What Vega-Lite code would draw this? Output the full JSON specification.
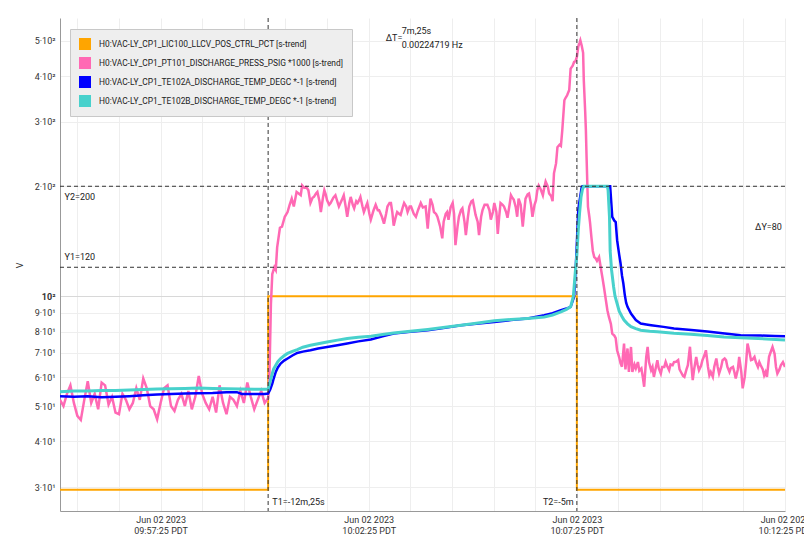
{
  "$schema": "https://vega.github.io/schema/vega-lite/v6.json",
  "width": 725,
  "height": 493,
  "autosize": "none",
  "padding": {"left": 60, "top": 18, "right": 19, "bottom": 40},
  "datasets": {
    "orange": [
      {"s": 0, "v": 29.5}, {"s": 300, "v": 100}, {"s": 745, "v": 29.5}, {"s": 1045, "v": 29.5}
    ],
    "pink": [
      {"s": 0, "v": 52}, {"s": 5, "v": 50}, {"s": 10, "v": 54}, {"s": 15, "v": 57}, {"s": 20, "v": 51},
      {"s": 25, "v": 47}, {"s": 30, "v": 45.8}, {"s": 35, "v": 52}, {"s": 40, "v": 58.5}, {"s": 45, "v": 51},
      {"s": 50, "v": 54}, {"s": 55, "v": 49}, {"s": 60, "v": 58}, {"s": 65, "v": 57}, {"s": 70, "v": 50.5},
      {"s": 75, "v": 53}, {"s": 80, "v": 48}, {"s": 85, "v": 47.5}, {"s": 90, "v": 54}, {"s": 95, "v": 52},
      {"s": 100, "v": 49}, {"s": 105, "v": 51}, {"s": 110, "v": 56}, {"s": 115, "v": 52}, {"s": 120, "v": 59.5},
      {"s": 125, "v": 56}, {"s": 130, "v": 50}, {"s": 135, "v": 49}, {"s": 140, "v": 46}, {"s": 145, "v": 51},
      {"s": 150, "v": 56}, {"s": 155, "v": 57}, {"s": 160, "v": 50}, {"s": 165, "v": 48.5}, {"s": 170, "v": 52},
      {"s": 175, "v": 54}, {"s": 180, "v": 50}, {"s": 185, "v": 55}, {"s": 190, "v": 49}, {"s": 195, "v": 53},
      {"s": 200, "v": 60.5}, {"s": 205, "v": 54}, {"s": 210, "v": 51}, {"s": 215, "v": 49}, {"s": 220, "v": 53},
      {"s": 225, "v": 48}, {"s": 230, "v": 57}, {"s": 235, "v": 51}, {"s": 240, "v": 47.5}, {"s": 245, "v": 53},
      {"s": 250, "v": 52}, {"s": 255, "v": 50}, {"s": 260, "v": 55}, {"s": 265, "v": 51}, {"s": 270, "v": 58},
      {"s": 275, "v": 53}, {"s": 280, "v": 49}, {"s": 285, "v": 52}, {"s": 290, "v": 55}, {"s": 295, "v": 51},
      {"s": 300, "v": 52.5}, {"s": 302, "v": 62}, {"s": 304, "v": 95}, {"s": 306, "v": 115}, {"s": 309, "v": 120},
      {"s": 311, "v": 118}, {"s": 313, "v": 136}, {"s": 317, "v": 154}, {"s": 320, "v": 155}, {"s": 324, "v": 165},
      {"s": 328, "v": 170}, {"s": 331, "v": 178}, {"s": 334, "v": 185}, {"s": 337, "v": 176}, {"s": 341, "v": 193},
      {"s": 344, "v": 191}, {"s": 347, "v": 189}, {"s": 349, "v": 201}, {"s": 352, "v": 198}, {"s": 355, "v": 199},
      {"s": 358, "v": 195}, {"s": 361, "v": 180}, {"s": 364, "v": 186}, {"s": 366, "v": 187}, {"s": 369, "v": 191},
      {"s": 371, "v": 193}, {"s": 374, "v": 182}, {"s": 376, "v": 170}, {"s": 379, "v": 186}, {"s": 381, "v": 195},
      {"s": 383, "v": 190}, {"s": 385, "v": 183}, {"s": 388, "v": 178}, {"s": 390, "v": 180}, {"s": 394, "v": 186},
      {"s": 397, "v": 189}, {"s": 400, "v": 181}, {"s": 402, "v": 176}, {"s": 406, "v": 183}, {"s": 409, "v": 189},
      {"s": 412, "v": 175}, {"s": 414, "v": 165}, {"s": 417, "v": 180}, {"s": 419, "v": 187}, {"s": 422, "v": 178},
      {"s": 424, "v": 174}, {"s": 427, "v": 182}, {"s": 429, "v": 180}, {"s": 431, "v": 183}, {"s": 433, "v": 187},
      {"s": 436, "v": 176}, {"s": 438, "v": 170}, {"s": 441, "v": 176}, {"s": 443, "v": 180}, {"s": 446, "v": 168},
      {"s": 448, "v": 162}, {"s": 452, "v": 172}, {"s": 455, "v": 178}, {"s": 458, "v": 172}, {"s": 460, "v": 172},
      {"s": 464, "v": 165}, {"s": 467, "v": 158}, {"s": 470, "v": 168}, {"s": 472, "v": 176}, {"s": 475, "v": 180},
      {"s": 477, "v": 180}, {"s": 479, "v": 170}, {"s": 481, "v": 156}, {"s": 484, "v": 165}, {"s": 486, "v": 170},
      {"s": 489, "v": 168}, {"s": 491, "v": 167}, {"s": 494, "v": 175}, {"s": 496, "v": 180}, {"s": 499, "v": 176},
      {"s": 501, "v": 170}, {"s": 504, "v": 176}, {"s": 506, "v": 176}, {"s": 510, "v": 168}, {"s": 513, "v": 165},
      {"s": 516, "v": 172}, {"s": 520, "v": 180}, {"s": 523, "v": 175}, {"s": 527, "v": 176}, {"s": 530, "v": 153},
      {"s": 532, "v": 170}, {"s": 534, "v": 185}, {"s": 537, "v": 178}, {"s": 539, "v": 170}, {"s": 542, "v": 168},
      {"s": 544, "v": 165}, {"s": 548, "v": 155}, {"s": 551, "v": 144}, {"s": 553, "v": 160}, {"s": 556, "v": 168},
      {"s": 558, "v": 170}, {"s": 560, "v": 162}, {"s": 563, "v": 175}, {"s": 566, "v": 180}, {"s": 568, "v": 168},
      {"s": 570, "v": 138}, {"s": 573, "v": 155}, {"s": 575, "v": 165}, {"s": 578, "v": 172}, {"s": 580, "v": 174},
      {"s": 583, "v": 160}, {"s": 585, "v": 147}, {"s": 588, "v": 165}, {"s": 590, "v": 176}, {"s": 593, "v": 182},
      {"s": 595, "v": 183}, {"s": 597, "v": 175}, {"s": 599, "v": 167}, {"s": 602, "v": 160}, {"s": 604, "v": 147},
      {"s": 607, "v": 165}, {"s": 609, "v": 172}, {"s": 612, "v": 178}, {"s": 616, "v": 178}, {"s": 619, "v": 172},
      {"s": 621, "v": 162}, {"s": 624, "v": 170}, {"s": 626, "v": 180}, {"s": 629, "v": 170}, {"s": 631, "v": 148},
      {"s": 633, "v": 165}, {"s": 635, "v": 180}, {"s": 638, "v": 178}, {"s": 640, "v": 176}, {"s": 643, "v": 170},
      {"s": 645, "v": 164}, {"s": 648, "v": 178}, {"s": 650, "v": 189}, {"s": 652, "v": 186}, {"s": 654, "v": 184},
      {"s": 657, "v": 175}, {"s": 659, "v": 165}, {"s": 661, "v": 185}, {"s": 664, "v": 178}, {"s": 667, "v": 155},
      {"s": 669, "v": 170}, {"s": 671, "v": 185}, {"s": 674, "v": 190}, {"s": 676, "v": 191}, {"s": 679, "v": 178},
      {"s": 681, "v": 165}, {"s": 684, "v": 178}, {"s": 686, "v": 183}, {"s": 688, "v": 195}, {"s": 690, "v": 201},
      {"s": 693, "v": 196}, {"s": 696, "v": 189}, {"s": 698, "v": 198}, {"s": 700, "v": 206}, {"s": 703, "v": 200},
      {"s": 705, "v": 191}, {"s": 708, "v": 188}, {"s": 710, "v": 182}, {"s": 712, "v": 217}, {"s": 715, "v": 231},
      {"s": 717, "v": 256}, {"s": 720, "v": 260}, {"s": 722, "v": 258}, {"s": 724, "v": 285}, {"s": 727, "v": 344},
      {"s": 729, "v": 350}, {"s": 731, "v": 355}, {"s": 734, "v": 367}, {"s": 736, "v": 420}, {"s": 739, "v": 428},
      {"s": 741, "v": 438}, {"s": 743, "v": 440}, {"s": 745, "v": 452}, {"s": 747, "v": 483}, {"s": 749, "v": 495},
      {"s": 750, "v": 502}, {"s": 752, "v": 485}, {"s": 754, "v": 464}, {"s": 755, "v": 390}, {"s": 757, "v": 320},
      {"s": 758, "v": 285}, {"s": 759, "v": 240}, {"s": 761, "v": 176}, {"s": 763, "v": 165}, {"s": 764, "v": 159},
      {"s": 766, "v": 145}, {"s": 768, "v": 133}, {"s": 770, "v": 128}, {"s": 772, "v": 127}, {"s": 774, "v": 125},
      {"s": 777, "v": 128}, {"s": 780, "v": 118}, {"s": 782, "v": 112}, {"s": 784, "v": 106}, {"s": 787, "v": 97},
      {"s": 789, "v": 91.5}, {"s": 791, "v": 88}, {"s": 794, "v": 84}, {"s": 796, "v": 79}, {"s": 799, "v": 78},
      {"s": 801, "v": 76.7}, {"s": 803, "v": 71.1}, {"s": 806, "v": 68}, {"s": 808, "v": 65.5}, {"s": 810, "v": 64.1},
      {"s": 813, "v": 74.2}, {"s": 815, "v": 63}, {"s": 818, "v": 71.9}, {"s": 820, "v": 62}, {"s": 823, "v": 72.6},
      {"s": 825, "v": 62}, {"s": 828, "v": 65}, {"s": 830, "v": 63.4}, {"s": 833, "v": 66}, {"s": 835, "v": 62.5},
      {"s": 838, "v": 63.4}, {"s": 840, "v": 60.1}, {"s": 842, "v": 56.5}, {"s": 845, "v": 68.2}, {"s": 847, "v": 72.6},
      {"s": 849, "v": 66}, {"s": 852, "v": 62.7}, {"s": 854, "v": 64}, {"s": 856, "v": 60.1}, {"s": 859, "v": 64},
      {"s": 861, "v": 66.8}, {"s": 863, "v": 63.5}, {"s": 866, "v": 61.4}, {"s": 868, "v": 64}, {"s": 871, "v": 64},
      {"s": 873, "v": 66.1}, {"s": 875, "v": 64.5}, {"s": 878, "v": 62.7}, {"s": 880, "v": 65}, {"s": 883, "v": 64.7},
      {"s": 885, "v": 66}, {"s": 888, "v": 66.1}, {"s": 891, "v": 66.8}, {"s": 893, "v": 63}, {"s": 895, "v": 62},
      {"s": 898, "v": 60.5}, {"s": 900, "v": 60.1}, {"s": 903, "v": 63}, {"s": 905, "v": 64.7}, {"s": 908, "v": 72.7},
      {"s": 910, "v": 65}, {"s": 912, "v": 58.9}, {"s": 914, "v": 63}, {"s": 917, "v": 68.2}, {"s": 919, "v": 65},
      {"s": 921, "v": 62.7}, {"s": 924, "v": 64.5}, {"s": 926, "v": 66.8}, {"s": 929, "v": 69}, {"s": 931, "v": 71.1},
      {"s": 934, "v": 64}, {"s": 936, "v": 60.7}, {"s": 938, "v": 62}, {"s": 941, "v": 60.1}, {"s": 943, "v": 64},
      {"s": 946, "v": 67.5}, {"s": 948, "v": 64}, {"s": 950, "v": 61.4}, {"s": 953, "v": 64}, {"s": 955, "v": 66.8},
      {"s": 958, "v": 67.5}, {"s": 960, "v": 66.8}, {"s": 962, "v": 64}, {"s": 965, "v": 62}, {"s": 967, "v": 63.5},
      {"s": 970, "v": 64}, {"s": 972, "v": 62}, {"s": 974, "v": 59.5}, {"s": 977, "v": 63}, {"s": 979, "v": 68.2},
      {"s": 982, "v": 62}, {"s": 984, "v": 55.9}, {"s": 987, "v": 60.1}, {"s": 989, "v": 66}, {"s": 991, "v": 74.2},
      {"s": 994, "v": 70}, {"s": 996, "v": 66.8}, {"s": 998, "v": 67}, {"s": 1001, "v": 68.2}, {"s": 1003, "v": 66},
      {"s": 1006, "v": 64}, {"s": 1008, "v": 66}, {"s": 1010, "v": 64.7}, {"s": 1013, "v": 63}, {"s": 1015, "v": 60.7},
      {"s": 1017, "v": 62}, {"s": 1019, "v": 60.1}, {"s": 1022, "v": 68.2}, {"s": 1024, "v": 70}, {"s": 1027, "v": 72.6},
      {"s": 1030, "v": 69.5}, {"s": 1032, "v": 64}, {"s": 1034, "v": 61.4}, {"s": 1037, "v": 63}, {"s": 1039, "v": 64.7},
      {"s": 1042, "v": 66}, {"s": 1045, "v": 64}
    ],
    "blue": [
      {"s": 0, "v": 53.2}, {"s": 20, "v": 53.0}, {"s": 40, "v": 53.2}, {"s": 60, "v": 52.9}, {"s": 80, "v": 53.0},
      {"s": 100, "v": 53.2}, {"s": 120, "v": 53.5}, {"s": 140, "v": 53.8}, {"s": 160, "v": 54.0}, {"s": 180, "v": 54.1},
      {"s": 200, "v": 54.2}, {"s": 220, "v": 54.3}, {"s": 240, "v": 54.6}, {"s": 255, "v": 54.6}, {"s": 262, "v": 54.0},
      {"s": 280, "v": 54.0}, {"s": 295, "v": 54.0}, {"s": 300, "v": 54.1}, {"s": 303, "v": 55.5}, {"s": 306, "v": 57.6},
      {"s": 308, "v": 59.5}, {"s": 311, "v": 62.0}, {"s": 314, "v": 63.8}, {"s": 318, "v": 65.4}, {"s": 323, "v": 66.6},
      {"s": 328, "v": 67.5}, {"s": 335, "v": 68.8}, {"s": 342, "v": 69.9}, {"s": 350, "v": 70.5}, {"s": 361, "v": 71.1},
      {"s": 372, "v": 71.9}, {"s": 385, "v": 72.6}, {"s": 400, "v": 73.4}, {"s": 414, "v": 74.2}, {"s": 430, "v": 75.2},
      {"s": 448, "v": 76.1}, {"s": 465, "v": 77.6}, {"s": 481, "v": 79.0}, {"s": 505, "v": 79.9}, {"s": 530, "v": 80.7},
      {"s": 555, "v": 82.0}, {"s": 578, "v": 83.3}, {"s": 600, "v": 84.1}, {"s": 626, "v": 85.0}, {"s": 650, "v": 86.0},
      {"s": 674, "v": 86.9}, {"s": 698, "v": 88.7}, {"s": 710, "v": 89.8}, {"s": 722, "v": 91.5}, {"s": 730, "v": 92.5},
      {"s": 736, "v": 93.5}, {"s": 741, "v": 99.6}, {"s": 743, "v": 115}, {"s": 745, "v": 140}, {"s": 747, "v": 172},
      {"s": 749, "v": 183}, {"s": 752, "v": 199}, {"s": 753, "v": 200}, {"s": 793, "v": 200}, {"s": 796, "v": 165},
      {"s": 799, "v": 161}, {"s": 801, "v": 159.6}, {"s": 803, "v": 142.4}, {"s": 806, "v": 130}, {"s": 808, "v": 122.9},
      {"s": 810, "v": 114}, {"s": 812, "v": 108.3}, {"s": 814, "v": 101}, {"s": 816, "v": 96}, {"s": 818, "v": 93.5},
      {"s": 823, "v": 89.6}, {"s": 830, "v": 86.0}, {"s": 837, "v": 84.2}, {"s": 845, "v": 83.7}, {"s": 852, "v": 83.3},
      {"s": 870, "v": 82.4}, {"s": 885, "v": 81.6}, {"s": 910, "v": 80.8}, {"s": 933, "v": 80.0}, {"s": 955, "v": 79.2},
      {"s": 981, "v": 78.2}, {"s": 1010, "v": 78.0}, {"s": 1030, "v": 77.8}, {"s": 1045, "v": 77.7}
    ],
    "teal": [
      {"s": 0, "v": 54.7}, {"s": 20, "v": 55.0}, {"s": 40, "v": 55.0}, {"s": 60, "v": 55.2}, {"s": 80, "v": 55.2},
      {"s": 100, "v": 55.3}, {"s": 120, "v": 55.5}, {"s": 140, "v": 55.7}, {"s": 160, "v": 55.8}, {"s": 180, "v": 55.9},
      {"s": 200, "v": 56.0}, {"s": 220, "v": 55.9}, {"s": 240, "v": 55.8}, {"s": 260, "v": 55.7}, {"s": 280, "v": 55.6},
      {"s": 295, "v": 55.6}, {"s": 300, "v": 55.6}, {"s": 302, "v": 57.5}, {"s": 306, "v": 61.4}, {"s": 308, "v": 63.2},
      {"s": 311, "v": 64.7}, {"s": 314, "v": 66.2}, {"s": 318, "v": 67.5}, {"s": 323, "v": 68.7}, {"s": 328, "v": 69.7},
      {"s": 335, "v": 70.6}, {"s": 342, "v": 71.4}, {"s": 350, "v": 72.5}, {"s": 361, "v": 73.4}, {"s": 372, "v": 74.1},
      {"s": 385, "v": 74.9}, {"s": 400, "v": 75.8}, {"s": 414, "v": 76.6}, {"s": 430, "v": 77.2}, {"s": 448, "v": 77.7},
      {"s": 465, "v": 78.5}, {"s": 481, "v": 79.3}, {"s": 505, "v": 80.2}, {"s": 530, "v": 81.1}, {"s": 555, "v": 82.2},
      {"s": 578, "v": 83.3}, {"s": 600, "v": 84.3}, {"s": 626, "v": 85.6}, {"s": 650, "v": 86.3}, {"s": 674, "v": 86.9},
      {"s": 698, "v": 87.7}, {"s": 710, "v": 88.8}, {"s": 722, "v": 90.6}, {"s": 730, "v": 92.0}, {"s": 736, "v": 93.5},
      {"s": 740, "v": 100}, {"s": 743, "v": 118}, {"s": 745, "v": 130}, {"s": 747, "v": 151.6}, {"s": 749, "v": 170},
      {"s": 751, "v": 187}, {"s": 753, "v": 196}, {"s": 755, "v": 200}, {"s": 789, "v": 200}, {"s": 790, "v": 195},
      {"s": 792, "v": 165}, {"s": 793, "v": 133}, {"s": 795, "v": 118}, {"s": 798, "v": 106}, {"s": 800, "v": 100},
      {"s": 803, "v": 95.5}, {"s": 806, "v": 91}, {"s": 810, "v": 88}, {"s": 813, "v": 86.0}, {"s": 818, "v": 84},
      {"s": 823, "v": 82.5}, {"s": 830, "v": 81.5}, {"s": 837, "v": 80.7}, {"s": 850, "v": 80.2}, {"s": 861, "v": 79.9},
      {"s": 885, "v": 79.2}, {"s": 909, "v": 78.7}, {"s": 933, "v": 78.0}, {"s": 957, "v": 77.3}, {"s": 981, "v": 76.9},
      {"s": 1006, "v": 76.6}, {"s": 1025, "v": 76.2}, {"s": 1045, "v": 75.8}
    ],
    "cursorsT": [{"s": 300}, {"s": 745}],
    "cursorsY": [{"v": 200}, {"v": 120}],
    "notesLeft": [
      {"s": 6.5, "v": 187, "text": "Y2=200"},
      {"s": 6.5, "v": 128, "text": "Y1=120"},
      {"s": 306, "v": 27.3, "text": "T1=-12m,25s"},
      {"s": 469.5, "v": 509, "text": "ΔT="},
      {"s": 492.5, "v": 532, "text": "7m,25s"},
      {"s": 492.5, "v": 487, "text": "0.00224719 Hz"}
    ],
    "notesRight": [
      {"s": 740.5, "v": 27.3, "text": "T2=-5m"},
      {"s": 1040.5, "v": 154.6, "text": "ΔY=80"}
    ]
  },
  "encoding": {
    "x": {
      "field": "s",
      "type": "quantitative",
      "scale": {"domain": [0, 1045], "nice": false, "zero": false},
      "axis": {
        "title": null,
        "values": [25, 85, 145, 205, 265, 325, 385, 445, 505, 565, 625, 685, 745, 805, 865, 925, 985, 1045],
        "labelExpr": "(datum.value - 145) % 300 == 0 ? [utcFormat(utc(2023, 5, 2, 9, 55, datum.value), '%b %d %Y'), utcFormat(utc(2023, 5, 2, 9, 55, datum.value), '%H:%M:%S') + ' PDT'] : ''",
        "ticks": false,
        "labelFlush": false,
        "labelOverlap": false,
        "labelBound": false,
        "labelPadding": 4,
        "labelFontSize": 9,
        "labelLineHeight": 11,
        "labelColor": "#333",
        "gridColor": "#eeeeee",
        "domainColor": "#999999"
      }
    },
    "y": {
      "field": "v",
      "type": "quantitative",
      "scale": {"type": "log", "domain": [25.8, 578], "nice": false},
      "axis": {
        "title": "V",
        "values": [30, 40, 50, 60, 70, 80, 90, 100, 200, 300, 400, 500],
        "labelExpr": "datum.value == 100 ? '10²' : (datum.value > 100 ? format(datum.value / 100, 'd') + '·10²' : format(datum.value / 10, 'd') + '·10¹')",
        "ticks": false,
        "labelOverlap": false,
        "labelPadding": 5,
        "labelFontSize": 9,
        "labelColor": "#333",
        "labelFontWeight": {"condition": {"test": "datum.value == 100", "value": "bold"}, "value": "normal"},
        "gridColor": {"condition": {"test": "datum.value == 100", "value": "#d8d8d8"}, "value": "#eeeeee"},
        "domainColor": "#999999",
        "titleFontSize": 9,
        "titleFontWeight": "normal",
        "titleColor": "#333",
        "titleX": -36,
        "titleY": 247,
        "titleAngle": -90
      }
    }
  },
  "layer": [
    {
      "data": {"name": "orange"},
      "mark": {"type": "line", "interpolate": "step-after", "strokeWidth": 2, "clip": true},
      "encoding": {
        "color": {
          "datum": "H0:VAC-LY_CP1_LIC100_LLCV_POS_CTRL_PCT [s-trend]",
          "type": "nominal",
          "scale": {
            "domain": [
              "H0:VAC-LY_CP1_LIC100_LLCV_POS_CTRL_PCT [s-trend]",
              "H0:VAC-LY_CP1_PT101_DISCHARGE_PRESS_PSIG *1000 [s-trend]",
              "H0:VAC-LY_CP1_TE102A_DISCHARGE_TEMP_DEGC *-1 [s-trend]",
              "H0:VAC-LY_CP1_TE102B_DISCHARGE_TEMP_DEGC *-1 [s-trend]"
            ],
            "range": ["#FFA500", "#FF69B4", "#0000FF", "#48D1CC"]
          },
          "legend": {
            "title": null,
            "orient": "none",
            "legendX": 10,
            "legendY": 11,
            "fillColor": "#eeeeee",
            "strokeColor": "#c8c8c8",
            "padding": 9,
            "symbolType": "square",
            "symbolSize": 144,
            "symbolStrokeWidth": 0,
            "symbolOpacity": 1,
            "labelFontSize": 8.4,
            "labelColor": "#222",
            "labelOffset": 8,
            "rowPadding": 7,
            "labelLimit": 400,
            "encode": {
              "symbols": {
                "update": {
                  "fill": {"scale": "color", "field": "value"},
                  "stroke": {"value": "transparent"},
                  "opacity": {"value": 1}
                }
              }
            }
          }
        }
      }
    },
    {
      "data": {"name": "pink"},
      "mark": {"type": "line", "strokeWidth": 2.5, "clip": true},
      "encoding": {"color": {"datum": "H0:VAC-LY_CP1_PT101_DISCHARGE_PRESS_PSIG *1000 [s-trend]", "type": "nominal"}}
    },
    {
      "data": {"name": "blue"},
      "mark": {"type": "line", "strokeWidth": 2.5, "clip": true},
      "encoding": {"color": {"datum": "H0:VAC-LY_CP1_TE102A_DISCHARGE_TEMP_DEGC *-1 [s-trend]", "type": "nominal"}}
    },
    {
      "data": {"name": "teal"},
      "mark": {"type": "line", "strokeWidth": 3, "clip": true},
      "encoding": {"color": {"datum": "H0:VAC-LY_CP1_TE102B_DISCHARGE_TEMP_DEGC *-1 [s-trend]", "type": "nominal"}}
    },
    {
      "data": {"name": "cursorsT"},
      "mark": {"type": "rule", "color": "#333", "strokeWidth": 1, "strokeDash": [4, 3]},
      "encoding": {"x": {"field": "s", "type": "quantitative"}, "y": null}
    },
    {
      "data": {"name": "cursorsY"},
      "mark": {"type": "rule", "color": "#333", "strokeWidth": 1, "strokeDash": [4, 3]},
      "encoding": {"y": {"field": "v", "type": "quantitative"}, "x": null}
    },
    {
      "data": {"name": "notesLeft"},
      "mark": {"type": "text", "align": "left", "baseline": "middle", "fontSize": 9, "color": "#222"},
      "encoding": {"text": {"field": "text"}}
    },
    {
      "data": {"name": "notesRight"},
      "mark": {"type": "text", "align": "right", "baseline": "middle", "fontSize": 9, "color": "#222"},
      "encoding": {"text": {"field": "text"}}
    }
  ],
  "config": {
    "font": "Roboto",
    "view": {"stroke": null}
  }
}
